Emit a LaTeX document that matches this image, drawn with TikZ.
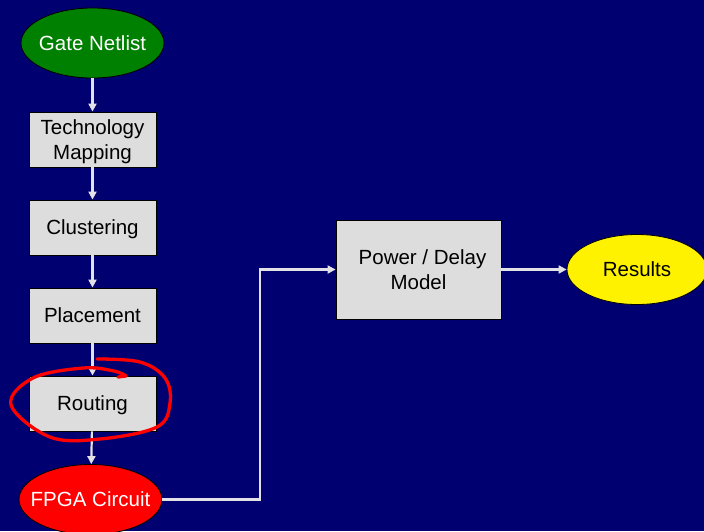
\documentclass[tikz,border=0pt]{standalone}
\usepackage{fontspec}
\setmainfont{Liberation Sans}
\usetikzlibrary{shapes.geometric,arrows.meta}
\definecolor{bgnavy}{RGB}{0,0,112}
\definecolor{boxgray}{RGB}{221,221,221}
\definecolor{linegray}{RGB}{225,225,230}
\definecolor{dgreen}{RGB}{0,128,0}
\tikzset{
  stepbox/.style={draw=black, line width=0.8pt, fill=boxgray, minimum width=127pt, minimum height=55pt, inner sep=0pt, text depth=0pt, align=center, text=black, font=\fontsize{20.5}{25}\selectfont},
  oval/.style={ellipse, draw=black, line width=0.8pt, minimum width=143pt, minimum height=70pt, inner sep=0pt, text depth=0pt, font=\fontsize{20.5}{25}\selectfont},
  flow/.style={draw=linegray, line width=2.2pt, -{Triangle[length=8pt,width=8pt]}}
}
\begin{document}
\begin{tikzpicture}[x=1pt,y=-1pt]
\fill[bgnavy] (0,0) rectangle (704,531);
\useasboundingbox (0,0) rectangle (704,531);
\node[oval, fill=dgreen, text=white] (gate) at (92.5,43) {\makebox[0pt]{Gate Netlist}};
\node[stepbox] (tech) at (92.5,139.5) {Technology\\Mapping};
\node[stepbox] (clus) at (92.5,227.5) {Clustering};
\node[stepbox] (place) at (92.5,315.5) {Placement};
\node[stepbox] (route) at (92.5,403.5) {Routing};
\node[oval, fill=red, text=white] (fpga) at (90.5,499.5) {\makebox[0pt]{FPGA Circuit}};
\node[stepbox, minimum width=165pt, minimum height=99pt] (pd) at (418.5,269.5) {\hspace*{8pt}Power / Delay\\Model};
\node[oval, fill=yellow, text=black, minimum width=140pt] (res) at (637,269.5) {\makebox[0pt]{Results}};
\coordinate (bend) at (260,269.5);
\draw[flow] (gate) -- (tech);
\draw[flow] (tech) -- (clus);
\draw[flow] (clus) -- (place);
\draw[flow] (place) -- (route);
\draw[flow] (route) -- (fpga);
\draw[flow] (fpga.east) -| (bend) -- (pd.west);
\draw[flow] (pd.east) -- (res.west);
\draw[red, line width=3.3pt, line cap=round, line join=round] plot[smooth, tension=0.6] coordinates {(97,359) (140,362) (165,378) (170,403) (157,427) (100,439) (50,437) (11,405) (33,378) (83,368) (114,371) (126,376)} -- (118,377);
\end{tikzpicture}
\end{document}
